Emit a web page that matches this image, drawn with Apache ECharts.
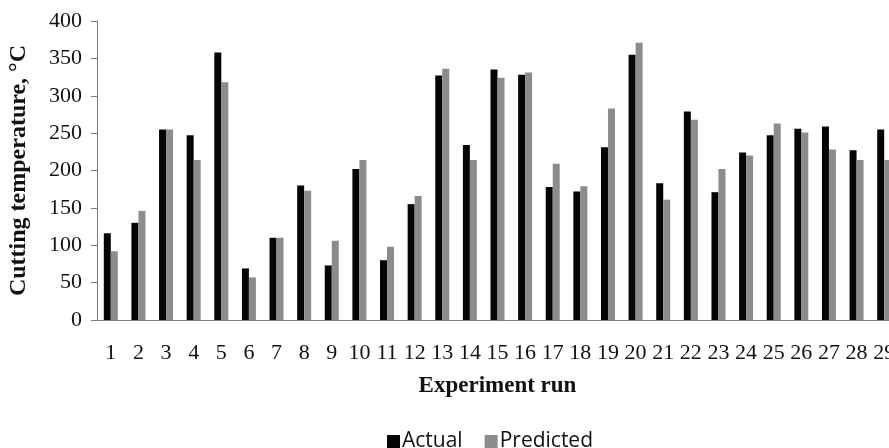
<!DOCTYPE html>
<html>
<head>
<meta charset="utf-8">
<script src="https://cdn.jsdelivr.net/npm/echarts@6/dist/echarts.min.js"></script>
<style>
html,body{margin:0;padding:0;background:#fff;overflow:hidden;width:889px;height:448px;}
#chart{width:898px;height:448px;}
</style>
</head>
<body>
<div id="chart"></div>
<script>
var categories = ['1','2','3','4','5','6','7','8','9','10','11','12','13','14','15','16','17','18','19','20','21','22','23','24','25','26','27','28','29'];
var actual    = [116,130,255,247,358,69,110,180,73,202,80,155,327,234,335,328,178,172,231,355,183,279,171,224,247,256,259,227,255];
var predicted = [92,146,255,214,318,57,110,173,106,214,98,166,336,214,324,331,209,179,283,371,161,268,202,220,263,251,228,214,214];
var yTicks = {min:0, max:400, interval:50};

var chart = echarts.init(document.getElementById('chart'), null, {renderer:'canvas'});
var serif = '"Liberation Serif", "DejaVu Serif", serif';
chart.setOption({
  animation:false,
  backgroundColor:'#ffffff',
  grid:{left:97, right:0, top:21, bottom:128, containLabel:false, outerBoundsMode:'none'},
  legend:{
    data:['Actual','Predicted'],
    left:382, top:426,
    itemWidth:13, itemHeight:13, itemGap:22,
    icon:'rect',
    textStyle:{fontFamily:'"Open Sans","Noto Sans",sans-serif', fontSize:21, color:'#111', padding:[0,0,0,-3]}
  },
  xAxis:{
    type:'category',
    data:categories,
    name:'Experiment run',
    nameLocation:'middle',
    nameGap:55,
    nameTextStyle:{fontFamily:serif, fontWeight:'bold', fontSize:23, color:'#111'},
    axisLine:{lineStyle:{color:'#7a7a7a', width:1}},
    axisTick:{length:7, lineStyle:{color:'#7a7a7a'}},
    axisLabel:{fontFamily:serif, fontSize:22, color:'#111', margin:22, interval:0}
  },
  yAxis:{
    type:'value',
    min:yTicks.min, max:yTicks.max, interval:yTicks.interval,
    name:'Cutting temperature, °C',
    nameLocation:'middle',
    nameGap:66,
    nameTextStyle:{fontFamily:serif, fontWeight:'bold', fontSize:24, color:'#111'},
    axisLine:{show:true, lineStyle:{color:'#7a7a7a', width:1}},
    axisTick:{show:true, length:6, lineStyle:{color:'#7a7a7a'}},
    splitLine:{show:false},
    axisLabel:{fontFamily:serif, fontSize:22, color:'#111', margin:15}
  },
  series:[
    {name:'Actual', type:'bar', data:actual, barWidth:7, barGap:'0%',
     itemStyle:{color:'#050505'}},
    {name:'Predicted', type:'bar', data:predicted, barWidth:7,
     itemStyle:{color:'#8c8c8c'}}
  ]
});
</script>
</body>
</html>
